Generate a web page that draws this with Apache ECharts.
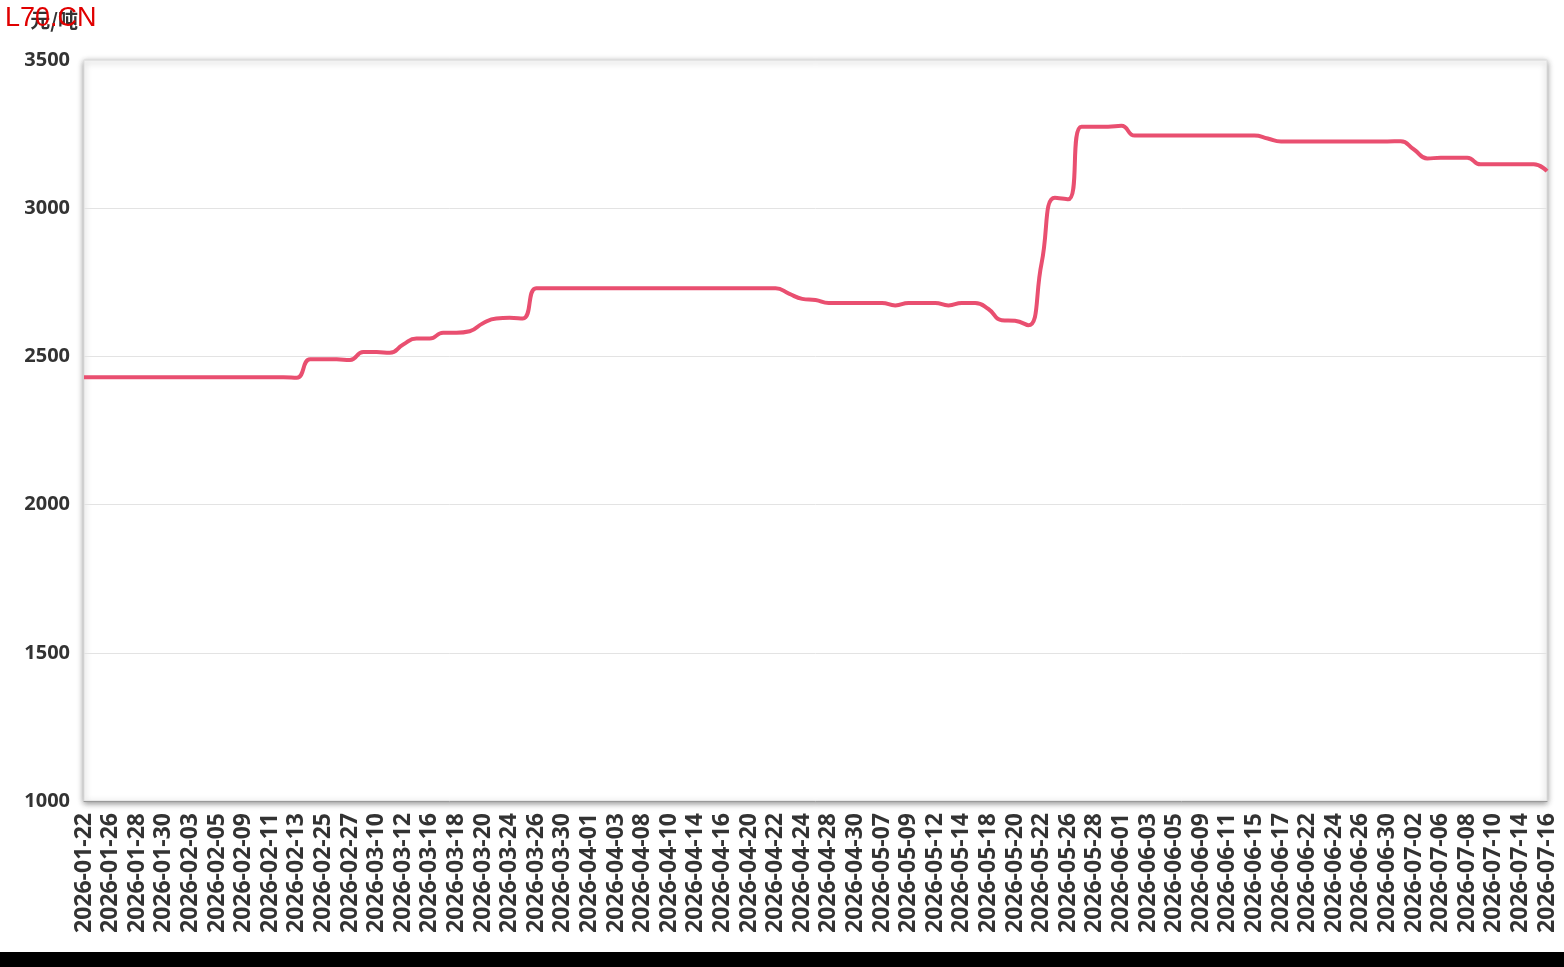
<!DOCTYPE html>
<html>
<head>
<meta charset="utf-8">
<title>L70.CN</title>
<script src="https://cdn.jsdelivr.net/npm/echarts@6/dist/echarts.min.js"></script>
<style>
  html, body { margin: 0; padding: 0; background: #000; }
  #chart { width: 1564px; height: 952px; background: #fff; }
</style>
</head>
<body>
<div id="chart"></div>
<script>
// 日期（每隔一个显示一个）
const dates = [
  '2026-01-22', '2026-01-23', '2026-01-26', '2026-01-27', '2026-01-28', '2026-01-29', '2026-01-30', '2026-02-02',
  '2026-02-03', '2026-02-04', '2026-02-05', '2026-02-06', '2026-02-09', '2026-02-10', '2026-02-11', '2026-02-12',
  '2026-02-13', '2026-02-24', '2026-02-25', '2026-02-26', '2026-02-27', '2026-03-09', '2026-03-10', '2026-03-11',
  '2026-03-12', '2026-03-13', '2026-03-16', '2026-03-17', '2026-03-18', '2026-03-19', '2026-03-20', '2026-03-23',
  '2026-03-24', '2026-03-25', '2026-03-26', '2026-03-27', '2026-03-30', '2026-03-31', '2026-04-01', '2026-04-02',
  '2026-04-03', '2026-04-07', '2026-04-08', '2026-04-09', '2026-04-10', '2026-04-13', '2026-04-14', '2026-04-15',
  '2026-04-16', '2026-04-17', '2026-04-20', '2026-04-21', '2026-04-22', '2026-04-23', '2026-04-24', '2026-04-27',
  '2026-04-28', '2026-04-29', '2026-04-30', '2026-05-06', '2026-05-07', '2026-05-08', '2026-05-09', '2026-05-11',
  '2026-05-12', '2026-05-13', '2026-05-14', '2026-05-15', '2026-05-18', '2026-05-19', '2026-05-20', '2026-05-21',
  '2026-05-22', '2026-05-25', '2026-05-26', '2026-05-27', '2026-05-28', '2026-05-29', '2026-06-01', '2026-06-02',
  '2026-06-03', '2026-06-04', '2026-06-05', '2026-06-08', '2026-06-09', '2026-06-10', '2026-06-11', '2026-06-12',
  '2026-06-15', '2026-06-16', '2026-06-17', '2026-06-18', '2026-06-22', '2026-06-23', '2026-06-24', '2026-06-25',
  '2026-06-26', '2026-06-29', '2026-06-30', '2026-07-01', '2026-07-02', '2026-07-03', '2026-07-06', '2026-07-07',
  '2026-07-08', '2026-07-09', '2026-07-10', '2026-07-13', '2026-07-14', '2026-07-15', '2026-07-16'
]

// 价格 元/吨
const prices = [
  2430, 2430, 2430, 2430, 2430, 2430, 2430, 2430,
  2430, 2430, 2430, 2430, 2430, 2430, 2430, 2430,
  2428, 2490, 2490, 2490, 2488, 2515, 2515, 2512,
  2540, 2560, 2560, 2580, 2580, 2585, 2612, 2628,
  2630, 2628, 2730, 2730, 2730, 2730, 2730, 2730,
  2730, 2730, 2730, 2730, 2730, 2730, 2730, 2730,
  2730, 2730, 2730, 2730, 2730, 2712, 2694, 2690,
  2680, 2680, 2680, 2680, 2680, 2672, 2680, 2680,
  2680, 2672, 2680, 2680, 2660, 2622, 2620, 2605,
  2815, 3035, 3030, 3275, 3275, 3275, 3278, 3245,
  3245, 3245, 3245, 3245, 3245, 3245, 3245, 3245,
  3245, 3235, 3225, 3225, 3225, 3225, 3225, 3225,
  3225, 3225, 3225, 3226, 3198, 3168, 3170, 3170,
  3170, 3148, 3148, 3148, 3148, 3148, 3125
]

const chart = echarts.init(document.getElementById('chart'))
const option = {
  animation: false,
  title: {
    text: 'L70.CN',
    left: 0,
    top: 0,
    textStyle: {
      color: '#e00000',
      fontSize: 27,
      fontWeight: 'normal',
      fontFamily: 'Liberation Sans'
    }
  },
  grid: {
    left: 84,
    right: 17,
    top: 60,
    bottom: 151,
    show: true,
    backgroundColor: '#fff',
    borderColor: '#ddd',
    borderWidth: 1,
    shadowColor: 'rgba(0, 0, 0, 0.45)',
    shadowBlur: 6,
    shadowOffsetY: 2
  },
  xAxis: {
    type: 'category',
    boundaryGap: false,
    data: dates,
    axisLine: { lineStyle: { color: '#999' } },
    axisTick: { show: false },
    axisLabel: {
      interval: 1,
      rotate: 90,
      margin: 12,
      color: '#333',
      fontSize: 23,
      fontWeight: 'bold',
      fontFamily: 'Open Sans'
    }
  },
  yAxis: {
    type: 'value',
    min: 1000,
    max: 3500,
    interval: 500,
    name: '元/吨',
    nameGap: 30,
    nameTextStyle: {
      align: 'right',
      padding: [0, 6, 0, 0],
      color: '#333',
      fontSize: 20,
      fontWeight: 'bold',
      fontFamily: 'Noto Sans CJK SC'
    },
    axisLine: { show: false },
    axisTick: { show: false },
    axisLabel: {
      margin: 14,
      color: '#333',
      fontSize: 20,
      fontWeight: 'bold',
      fontFamily: 'Open Sans',
      formatter: v => String(v)
    },
    splitLine: { lineStyle: { color: '#e3e3e3' } }
  },
  series: [
    {
      type: 'line',
      data: prices,
      smooth: true,
      showSymbol: false,
      lineStyle: { color: '#e94f70', width: 4 }
    }
  ]
}
chart.setOption(option)
</script>
</body>
</html>
